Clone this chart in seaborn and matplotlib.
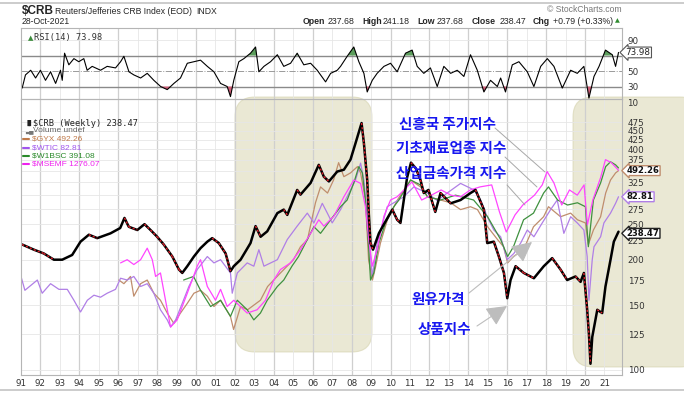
import pandas as pd
import seaborn as sns
import matplotlib.pyplot as plt
from matplotlib.patches import FancyBboxPatch
from matplotlib.lines import Line2D
from matplotlib.ticker import FixedLocator, FixedFormatter, NullLocator
from matplotlib.transforms import IdentityTransform

# =============================================================================
# DONNEES
# =============================================================================
# $CRB hebdo
crb_year = [1991.16, 1991.76, 1992.27, 1992.79, 1993.22, 1993.73, 1994.16, 1994.59, 1995.02, 1995.70,
            1996.20, 1996.42, 1996.64, 1997.08, 1997.45, 1997.76, 1998.10, 1998.44, 1998.88, 1999.22,
            1999.39, 1999.65, 1999.99, 2000.33, 2000.68, 2000.93, 2001.27, 2001.62, 2001.87, 2002.04,
            2002.39, 2002.90, 2003.16, 2003.42, 2003.76, 2004.28, 2004.61, 2004.79, 2005.30, 2005.47,
            2005.99, 2006.41, 2006.67, 2006.93, 2007.36, 2007.70, 2008.04, 2008.30, 2008.61, 2008.73,
            2008.90, 2008.98, 2009.07, 2009.20, 2009.50, 2009.76, 2010.19, 2010.44, 2010.61, 2010.95,
            2011.15, 2011.40, 2011.64, 2011.81, 2012.05, 2012.40, 2012.67, 2013.19, 2013.70, 2014.21,
            2014.47, 2014.90, 2015.07, 2015.41, 2015.67, 2015.93, 2016.10, 2016.27, 2016.53, 2016.95,
            2017.47, 2017.98, 2018.41, 2018.84, 2019.18, 2019.61, 2019.87, 2020.04, 2020.21, 2020.30,
            2020.38, 2020.47, 2020.73, 2020.98, 2021.15, 2021.41, 2021.58, 2021.82]
crb_val = [220, 213, 208, 200, 200, 206, 224, 234, 229, 236,
           244, 260, 246, 241, 250, 241, 231, 220, 204, 188,
           184, 192, 204, 215, 224, 229, 222, 208, 186, 192,
           200, 222, 247, 231, 239, 268, 274, 265, 310, 301,
           324, 363, 337, 327, 348, 352, 375, 416, 472, 416,
           330, 268, 222, 213, 236, 250, 274, 257, 252, 335,
           368, 355, 330, 304, 310, 270, 304, 285, 291, 304,
           310, 274, 222, 224, 204, 184, 157, 176, 192, 184,
           178, 192, 202, 188, 176, 180, 174, 184, 146, 125,
           104, 123, 146, 143, 169, 200, 224, 238.47]

# $WTIC (niveau affiche sur l'echelle du graphique)
wtic_year = [1991.10, 1991.30, 1991.94, 1992.19, 1992.62, 1993.05, 1993.48, 1993.82, 1994.16, 1994.51,
             1994.85, 1995.19, 1995.53, 1995.96, 1996.22, 1996.56, 1996.90, 1997.25, 1997.59, 1997.93,
             1998.27, 1998.62, 1998.79, 1999.05, 1999.39, 1999.73, 2000.16, 2000.68, 2001.02, 2001.36,
             2001.87, 2001.96, 2002.22, 2002.73, 2003.07, 2003.33, 2003.59, 2004.28, 2004.79, 2005.30,
             2005.82, 2006.16, 2006.59, 2006.85, 2007.10, 2007.53, 2007.96, 2008.30, 2008.56, 2008.73,
             2008.90, 2009.07, 2009.16, 2009.41, 2009.93, 2010.78, 2011.30, 2011.64, 2011.99, 2012.50,
             2013.01, 2013.70, 2014.39, 2014.73, 2015.07, 2015.41, 2015.76, 2016.10, 2016.44, 2016.79,
             2017.13, 2017.47, 2017.90, 2018.33, 2018.67, 2019.01, 2019.36, 2019.70, 2020.04, 2020.21,
             2020.30, 2020.47, 2020.56, 2020.90, 2021.07, 2021.41, 2021.67, 2021.82]
wtic_val = [180, 165, 176, 162, 172, 166, 166, 155, 144, 155,
            160, 158, 162, 166, 178, 176, 180, 169, 172, 162,
            146, 137, 131, 137, 152, 169, 188, 204, 196, 200,
            184, 162, 184, 196, 192, 213, 192, 200, 227, 247,
            268, 252, 285, 268, 252, 274, 304, 330, 367, 330,
            263, 204, 180, 222, 279, 297, 316, 310, 304, 290,
            304, 323, 310, 291, 262, 241, 231, 200, 208, 222,
            241, 231, 252, 274, 291, 236, 262, 252, 241, 204,
            155, 200, 217, 231, 252, 268, 285, 297]

# $MSEMF
msemf_year = [1996.22, 1996.56, 1996.90, 1997.25, 1997.59, 1997.85, 1998.02, 1998.27, 1998.53, 1998.79,
              1999.13, 1999.65, 2000.16, 2000.33, 2000.68, 2001.10, 2001.36, 2001.70, 2002.04, 2002.73,
              2003.24, 2003.67, 2004.10, 2004.44, 2004.96, 2005.47, 2005.99, 2006.41, 2006.67, 2007.19,
              2007.70, 2008.21, 2008.56, 2008.81, 2008.98, 2009.16, 2009.41, 2009.76, 2010.10, 2010.44,
              2010.90, 2011.20, 2011.70, 2012.20, 2012.70, 2013.20, 2013.70, 2014.20, 2014.70, 2015.30,
              2015.70, 2016.05, 2016.50, 2016.90, 2017.50, 2017.90, 2018.15, 2018.50, 2018.90, 2019.30,
              2019.70, 2020.05, 2020.22, 2020.50, 2020.90, 2021.15, 2021.45, 2021.82]
msemf_val = [196, 200, 194, 200, 215, 200, 180, 184, 155, 131,
             137, 162, 192, 200, 169, 155, 166, 149, 155, 143,
             146, 155, 176, 188, 196, 213, 236, 257, 247, 263,
             297, 330, 323, 279, 227, 192, 213, 263, 291, 297,
             314, 326, 291, 300, 310, 300, 297, 310, 316, 320,
             270, 238, 265, 282, 300, 320, 348, 324, 282, 310,
             300, 320, 249, 291, 335, 375, 368, 351]

# $W1BSC
w1bsc_year = [1999.46, 1999.97, 2000.33, 2000.85, 2001.36, 2001.87, 2002.22, 2002.73, 2003.07, 2003.41,
              2003.76, 2004.28, 2004.61, 2005.03, 2005.37, 2005.82, 2006.16, 2006.50, 2007.02, 2007.53,
              2007.87, 2008.21, 2008.47, 2008.65, 2008.81, 2008.98, 2009.07, 2009.24, 2009.50, 2009.84,
              2010.27, 2010.53, 2011.13, 2011.64, 2012.00, 2012.67, 2013.44, 2014.37, 2015.09, 2015.76,
              2016.12, 2016.42, 2016.94, 2017.45, 2017.97, 2018.22, 2018.69, 2019.20, 2019.71, 2020.12,
              2020.27, 2020.53, 2020.90, 2021.16, 2021.41, 2021.67, 2021.82]
w1bsc_val = [176, 180, 165, 149, 155, 140, 155, 146, 137, 143,
             155, 169, 176, 192, 204, 227, 246, 236, 257, 279,
             291, 324, 359, 345, 291, 213, 176, 184, 222, 252,
             279, 291, 330, 320, 297, 291, 300, 291, 262, 227,
             204, 217, 257, 268, 304, 316, 291, 282, 286, 279,
             217, 291, 324, 359, 370, 363, 356]

# $GYX
gyx_year = [1996.13, 1996.39, 1996.73, 1996.90, 1997.25, 1997.59, 1997.93, 1998.27, 1998.62, 1998.96,
            1999.30, 1999.65, 1999.99, 2000.33, 2000.68, 2001.02, 2001.36, 2001.87, 2002.03, 2002.39,
            2002.75, 2003.41, 2003.78, 2004.44, 2005.11, 2005.47, 2005.83, 2006.24, 2006.50, 2006.86,
            2007.17, 2007.43, 2007.70, 2008.04, 2008.40, 2008.56, 2008.81, 2008.97, 2009.17, 2009.33,
            2009.58, 2009.94, 2010.45, 2011.13, 2011.64, 2012.00, 2012.67, 2013.19, 2013.70, 2014.21,
            2014.57, 2015.09, 2015.60, 2015.91, 2016.12, 2016.42, 2016.94, 2017.45, 2017.97, 2018.22,
            2018.84, 2019.36, 2019.71, 2020.12, 2020.27, 2020.53, 2020.90, 2021.16, 2021.41, 2021.67,
            2021.82]
gyx_val = [176, 172, 180, 159, 172, 176, 162, 155, 143, 134,
           143, 152, 162, 165, 159, 149, 155, 140, 129, 149,
           146, 155, 169, 184, 200, 217, 227, 286, 316, 304,
           330, 368, 337, 345, 359, 345, 291, 200, 176, 191,
           222, 257, 291, 330, 316, 297, 291, 286, 274, 279,
           274, 246, 227, 217, 196, 204, 213, 246, 262, 279,
           262, 268, 257, 252, 220, 241, 262, 304, 330, 345,
           350]

# RSI(14)
rsi_year = [1991.16, 1991.33, 1991.60, 1991.85, 1992.10, 1992.36, 1992.62, 1992.88, 1993.13, 1993.22,
            1993.34, 1993.56, 1993.82, 1994.07, 1994.33, 1994.50, 1994.76, 1995.19, 1995.53, 1995.96,
            1996.22, 1996.39, 1996.65, 1996.90, 1997.25, 1997.59, 1997.93, 1998.28, 1998.62, 1998.96,
            1999.30, 1999.65, 1999.99, 2000.33, 2000.68, 2001.02, 2001.36, 2001.70, 2001.87, 2002.04,
            2002.30, 2002.56, 2002.90, 2003.16, 2003.33, 2003.59, 2003.93, 2004.28, 2004.61, 2004.96,
            2005.30, 2005.64, 2005.99, 2006.33, 2006.76, 2007.02, 2007.36, 2007.53, 2007.87, 2008.21,
            2008.47, 2008.73, 2008.90, 2009.16, 2009.41, 2009.76, 2010.10, 2010.44, 2010.87, 2011.21,
            2011.47, 2011.81, 2012.15, 2012.50, 2012.84, 2013.19, 2013.53, 2013.87, 2014.21, 2014.56,
            2014.90, 2015.24, 2015.59, 2015.76, 2016.01, 2016.36, 2016.70, 2017.13, 2017.47, 2017.82,
            2018.16, 2018.50, 2018.93, 2019.36, 2019.70, 2020.04, 2020.30, 2020.56, 2020.82, 2021.15,
            2021.50, 2021.67, 2021.82]
rsi_val = [28, 45, 51, 41, 51, 38, 49, 34, 51, 38,
           73, 58, 66, 62, 66, 51, 56, 51, 56, 54,
           62, 69, 49, 45, 41, 47, 38, 30, 26, 34,
           41, 60, 62, 64, 56, 49, 34, 30, 17, 38,
           62, 66, 73, 81, 49, 56, 62, 71, 56, 60,
           73, 58, 60, 51, 36, 47, 51, 56, 69, 81,
           62, 47, 23, 38, 47, 56, 60, 49, 73, 77,
           56, 47, 54, 30, 56, 47, 51, 43, 71, 51,
           23, 38, 30, 41, 23, 58, 62, 49, 30, 56,
           66, 56, 28, 51, 47, 56, 15, 43, 56, 77,
           71, 56, 73.98]

year_ticks = list(range(1991, 2022))
year_labels = [str(y)[2:] for y in year_ticks]
price_ticks = [100, 125, 150, 175, 200, 225, 250, 275, 300, 325, 350, 375, 400, 425, 450, 475]
# 300 et 350 sont caches par les etiquettes de valeur
price_labels = ['' if p in (300, 350) else str(p) for p in price_ticks]

# =============================================================================
# FIGURE
# =============================================================================
W, H = 684, 394
sns.set_style("white")
plt.rcParams['font.family'] = ['DejaVu Sans']


def fx(x):
    return x / W


def fy(y):
    return 1 - y / H


fig = plt.figure(figsize=(W / 100, H / 100), dpi=100)

# zones beiges arrondies (en pixels)
for (x0, y0, x1, y1) in [(235, 97, 372, 352), (573, 97, 700, 367)]:
    box = FancyBboxPatch((x0, H - y1), x1 - x0, y1 - y0,
                         boxstyle="round,pad=0,rounding_size=20",
                         transform=IdentityTransform(), fc='#d6d3ab', ec='#cfcca2',
                         lw=0.8, alpha=0.5, zorder=-1)
    fig.add_artist(box)

ax_rsi = fig.add_axes([fx(21), fy(99), fx(622) - fx(21), fy(28) - fy(99)])
ax = fig.add_axes([fx(21), fy(375), fx(622) - fx(21), fy(99) - fy(375)])

x0, x1 = 1991.1, 2022.0
xt = [y + 0.1 for y in year_ticks]

for a in (ax, ax_rsi):
    a.set_facecolor('none')
    a.set_xlim(x0, x1)
    for s in a.spines.values():
        s.set_color('#b5b5b5')
        s.set_linewidth(0.8)
    for y, t in zip(year_ticks, xt):
        a.axvline(t, color='#cfcfcf' if y % 2 == 0 else '#e6e6e6',
                  lw=0.9 if y % 2 == 0 else 0.6, zorder=0)

# ----- RSI -----
rsi_df = pd.DataFrame({'year': rsi_year, 'rsi': rsi_val})
ax_rsi.set_ylim(13.9, 105.5)
for lev, c, ls, lw in [(90, '#e6e6e6', '-', 0.6), (70, '#8a8a8a', '-', 1.0),
                       (50, '#9a9a9a', '-.', 0.7), (30, '#8a8a8a', '-', 1.0)]:
    ax_rsi.axhline(lev, color=c, ls=ls, lw=lw, zorder=0)
ax_rsi.fill_between(rsi_df['year'], rsi_df['rsi'], 70, where=rsi_df['rsi'] > 70,
                    interpolate=True, color='#5c9e5c', lw=0)
ax_rsi.fill_between(rsi_df['year'], rsi_df['rsi'], 30, where=rsi_df['rsi'] < 30,
                    interpolate=True, color='#cf5f78', lw=0)
sns.lineplot(data=rsi_df, x='year', y='rsi', ax=ax_rsi, color='black', lw=0.8)
ax_rsi.set_xlabel('')
ax_rsi.set_ylabel('')
ax_rsi.set_xticks(xt)
ax_rsi.set_xticklabels([])
ax_rsi.yaxis.tick_right()
ax_rsi.set_yticks([30, 50, 90])
ax_rsi.tick_params(axis='both', length=0, pad=4, labelsize=6.3, labelcolor='#333333')
ax_rsi.text(1.006, 73.98, '73.98', transform=ax_rsi.get_yaxis_transform(), ha='left',
            va='center', fontsize=6.3, color='#222222',
            bbox=dict(boxstyle='larrow,pad=0.1', fc='white', ec='#555555', lw=0.8))
ax_rsi.text(0.012, 0.86, '\u25b2', transform=ax_rsi.transAxes, fontsize=5, color='#3c8c3c', va='center')
ax_rsi.text(0.022, 0.86, 'RSI(14) 73.98', transform=ax_rsi.transAxes, fontsize=6.2,
            family='DejaVu Sans Mono', color='#333333', va='center')
fig.text(fx(627), fy(103), '10', fontsize=6.3, color='#333333', va='center')

# ----- prix -----
ax.set_yscale('log')
ax.set_ylim(96.9, 549)
for p in price_ticks:
    ax.axhline(p, color='#e6e6e6', lw=0.6, zorder=0)

overlays = [(gyx_year, gyx_val, '#bf8d6d'),
            (wtic_year, wtic_val, '#b07fe6'),
            (w1bsc_year, w1bsc_val, '#3f913f'),
            (msemf_year, msemf_val, '#ff45ff')]
for yrs, vals, col in overlays:
    sns.lineplot(x=yrs, y=vals, ax=ax, color=col, lw=0.9)

sns.lineplot(x=crb_year, y=crb_val, ax=ax, color='black', lw=1.8)
for i in range(len(crb_val) - 1):
    if crb_val[i + 1] < crb_val[i]:
        ax.plot(crb_year[i:i + 2], crb_val[i:i + 2], color='#e3202c', lw=1.0,
                ls=(0, (1.5, 1.5)))

ax.set_xlabel('')
ax.set_ylabel('')
ax.set_xticks(xt)
ax.set_xticklabels(year_labels)
ax.yaxis.tick_right()
ax.yaxis.set_major_locator(FixedLocator(price_ticks))
ax.yaxis.set_major_formatter(FixedFormatter(price_labels))
ax.yaxis.set_minor_locator(NullLocator())
ax.tick_params(axis='both', length=0, labelsize=6.3, labelcolor='#333333')
ax.tick_params(axis='y', pad=4)
ax.tick_params(axis='x', pad=3)

for val, txt, col in [(350, '492.26', '#bf8d6d'), (297, '82.81', '#b07fe6'),
                      (236, '238.47', '#222222')]:
    ax.text(1.008, val, txt, transform=ax.get_yaxis_transform(), ha='left', va='center',
            fontsize=6.1, fontweight='bold', color='#111111',
            bbox=dict(boxstyle='larrow,pad=0.05', fc='white', ec=col, lw=1.0))

# legende
fig.text(fx(33), fy(123), '$CRB (Weekly) 238.47', fontsize=6.2, family='DejaVu Sans Mono',
         color='#222222', va='center')
fig.text(fx(25), fy(123), '\u2590\u258c', fontsize=4.5, color='#222222', va='center')
fig.text(fx(33), fy(131), 'Volume undef', fontsize=6, family='Liberation Sans',
         color='#666666', va='center')
fig.text(fx(25), fy(131), '\u2583\u2585', fontsize=4, color='#777777', va='center')
leg = [('$GYX 492.26', '#c07a4a'), ('$WTIC 82.81', '#a055ee'),
       ('$W1BSC 391.08', '#2a8a2a'), ('$MSEMF 1276.07', '#ee22ee')]
for k, (txt, col) in enumerate(leg):
    yy = 139.5 + 8.3 * k
    fig.add_artist(Line2D([fx(23), fx(29)], [fy(yy), fy(yy)], color=col, lw=1.5))
    fig.text(fx(32), fy(yy), txt, fontsize=6, family='Liberation Sans', color=col, va='center')

# =============================================================================
# TEXTES EN-TETE
# =============================================================================
fig.add_artist(Line2D([0, 1], [fy(3), fy(3)], color='#c4c4c4', lw=1.2))
fig.add_artist(Line2D([0, 1], [fy(390), fy(390)], color='#c4c4c4', lw=1.2))
fig.text(fx(22), fy(11), '$CRB', fontsize=8.5, fontweight='bold', family='Liberation Sans', va='center')
fig.text(fx(55), fy(11), 'Reuters/Jefferies CRB Index (EOD)', fontsize=6.2,
         family='Liberation Sans', va='center')
fig.text(fx(196), fy(11), 'INDX', fontsize=6.2, family='Liberation Sans', va='center')
fig.text(fx(22), fy(21), '28-Oct-2021', fontsize=6.2, family='Liberation Sans', va='center')
fig.text(fx(622), fy(10), '\u00a9 StockCharts.com', fontsize=6.2, family='Liberation Sans',
         color='#777777', ha='right', va='center')
head = [(303, 'Open', True), (328, '237.68', False), (362, 'High', True), (383, '241.18', False),
        (417, 'Low', True), (437, '237.68', False), (472, 'Close', True), (500, '238.47', False),
        (533, 'Chg', True), (553, '+0.79 (+0.33%)', False)]
for x, txt, b in head:
    fig.text(fx(x), fy(21), txt, fontsize=6.3, family='Liberation Sans',
             fontweight='bold' if b else 'normal', va='center')
fig.text(fx(615), fy(21), '\u25b2', fontsize=4.5, color='#2e8b2e', va='center')

# =============================================================================
# ANNOTATIONS EN COREEN
# =============================================================================
kr = dict(fontsize=10.5, fontweight='bold', color='#1717f0',
          family=['Noto Sans CJK KR', 'DejaVu Sans'], ha='center', va='center')
fig.text(fx(447), fy(124), '신흥국 주가지수', **kr)
fig.text(fx(451), fy(148), '기초재료업종 지수', **kr)
fig.text(fx(451), fy(173), '산업금속가격 지수', **kr)
fig.text(fx(438), fy(299), '원유가격', **kr)
fig.text(fx(444), fy(329), '상품지수', **kr)

for (xa, ya, xb, yb) in [(495, 128, 545, 172), (505, 157, 537, 187), (507, 185, 525, 205)]:
    fig.add_artist(Line2D([fx(xa), fx(xb)], [fy(ya), fy(yb)], color='#a8a8a8', lw=0.7))

for (xa, ya, xb, yb) in [(469, 293, 532, 242), (477, 326, 507, 306)]:
    ax.annotate('', xy=(fx(xb), fy(yb)), xycoords='figure fraction',
                xytext=(fx(xa), fy(ya)), textcoords='figure fraction',
                arrowprops=dict(arrowstyle='-|>,head_length=0.9,head_width=0.45',
                                mutation_scale=14, color='#bdbdbd', lw=0.8,
                                shrinkA=0, shrinkB=0))

fig.savefig('out.png', dpi=100)
